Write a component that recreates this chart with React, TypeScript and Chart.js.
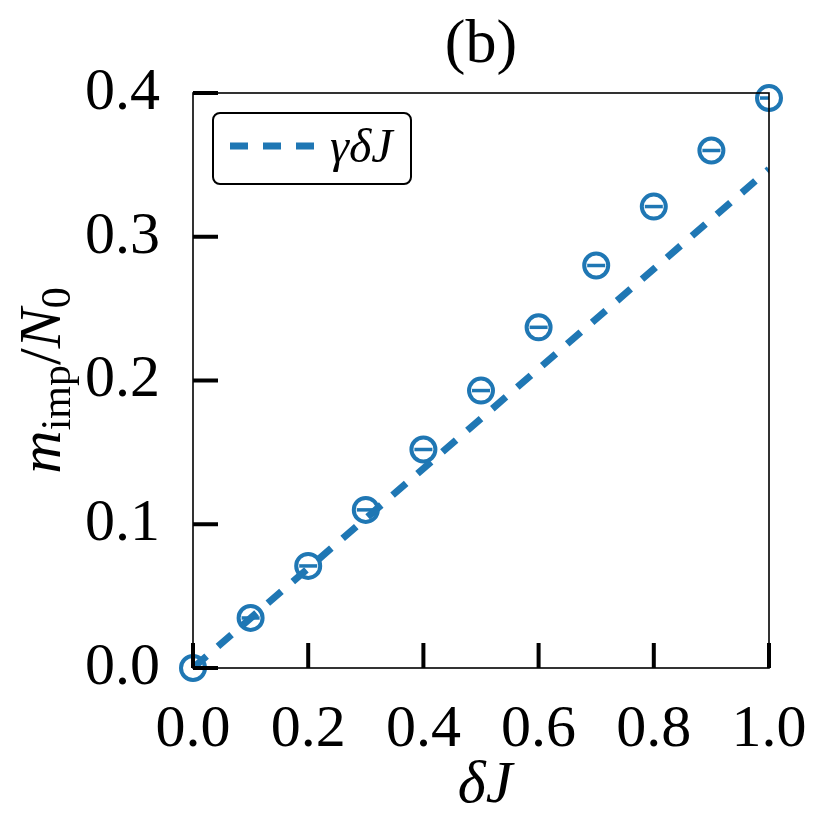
import React, { useEffect, useRef } from "react";
import { Chart, registerables } from "chart.js";

Chart.register(...registerables);

const deltaJ = [0.0, 0.1, 0.2, 0.3, 0.4, 0.5, 0.6, 0.7, 0.8, 0.9, 1.0];
const mImp = [0.0, 0.0348, 0.071, 0.110, 0.152, 0.193, 0.237, 0.280, 0.321, 0.360, 0.3965];
const fitX = [0.0, 1.0];
const fitY = [0.0, 0.347];
const xTicks = [0.0, 0.2, 0.4, 0.6, 0.8, 1.0];
const yTicks = [0.0, 0.1, 0.2, 0.3, 0.4];
const titleText = "(b)";
const xTitle = "δJ";
const legendLabel = "γδJ";

const BLUE = "#1f77b4";
const SERIF = "'Liberation Serif', 'DejaVu Serif', serif";

const decor = {
  id: "decor",
  afterDatasetsDraw(chart: any) {
    const { ctx, chartArea: a, scales } = chart;
    const xs = scales.x;
    const ys = scales.y;
    ctx.save();
    // frame
    ctx.strokeStyle = "#000";
    ctx.lineWidth = 1.6;
    ctx.strokeRect(a.left, a.top, a.right - a.left, a.bottom - a.top);
    // inward ticks
    ctx.lineWidth = 4;
    ctx.lineCap = "butt";
    xTicks.forEach((v) => {
      const px = xs.getPixelForValue(v);
      ctx.beginPath();
      ctx.moveTo(px, a.bottom);
      ctx.lineTo(px, a.bottom - 25);
      ctx.stroke();
    });
    yTicks.forEach((v) => {
      const py = ys.getPixelForValue(v);
      ctx.beginPath();
      ctx.moveTo(a.left, py);
      ctx.lineTo(a.left + 25, py);
      ctx.stroke();
    });

    // title
    ctx.fillStyle = "#000";
    ctx.textAlign = "center";
    ctx.textBaseline = "alphabetic";
    ctx.font = `62px ${SERIF}`;
    ctx.fillText(titleText, (a.left + a.right) / 2, 62);

    // x title
    ctx.font = `italic 60px ${SERIF}`;
    ctx.fillText(xTitle, (a.left + a.right) / 2 + 4, 802);

    // y title: m_imp / N_0 rotated
    ctx.save();
    ctx.translate(60, (a.top + a.bottom) / 2);
    ctx.rotate(-Math.PI / 2);
    ctx.textAlign = "left";
    const parts = [
      { t: "m", f: `italic 60px ${SERIF}`, dy: 0 },
      { t: "imp", f: `42px ${SERIF}`, dy: 10 },
      { t: "/", f: `60px ${SERIF}`, dy: 0 },
      { t: "N", f: `italic 60px ${SERIF}`, dy: 0 },
      { t: "0", f: `42px ${SERIF}`, dy: 10 },
    ];
    let total = 0;
    const widths = parts.map((p) => {
      ctx.font = p.f;
      const w = ctx.measureText(p.t).width;
      total += w;
      return w;
    });
    let cx = -total / 2;
    parts.forEach((p, i) => {
      ctx.font = p.f;
      ctx.fillText(p.t, cx, p.dy);
      cx += widths[i];
    });
    ctx.restore();

    // legend
    const lx = 213, ly = 113, lw = 198, lh = 71, r = 7;
    ctx.beginPath();
    ctx.moveTo(lx + r, ly);
    ctx.arcTo(lx + lw, ly, lx + lw, ly + lh, r);
    ctx.arcTo(lx + lw, ly + lh, lx, ly + lh, r);
    ctx.arcTo(lx, ly + lh, lx, ly, r);
    ctx.arcTo(lx, ly, lx + lw, ly, r);
    ctx.closePath();
    ctx.fillStyle = "rgba(255,255,255,0.8)";
    ctx.fill();
    ctx.lineWidth = 2;
    ctx.strokeStyle = "#000";
    ctx.stroke();
    ctx.beginPath();
    ctx.setLineDash([18, 15]);
    ctx.strokeStyle = BLUE;
    ctx.lineWidth = 7;
    ctx.moveTo(230, 146);
    ctx.lineTo(314, 146);
    ctx.stroke();
    ctx.setLineDash([]);
    ctx.fillStyle = "#000";
    ctx.font = `italic 48px ${SERIF}`;
    ctx.textAlign = "left";
    ctx.fillText(legendLabel, 330, 162);
    ctx.restore();
  },
};

export default function App() {
  const ref = useRef<HTMLCanvasElement>(null);
  useEffect(() => {
    if (!ref.current) return;
    const pts = deltaJ.map((x, i) => ({ x, y: mImp[i] }));
    const fit = fitX.map((x, i) => ({ x, y: fitY[i] }));
    const chart = new Chart(ref.current, {
      type: "scatter",
      data: {
        datasets: [
          {
            type: "line",
            label: legendLabel,
            data: fit,
            borderColor: BLUE,
            borderWidth: 7,
            borderDash: [18, 15],
            borderCapStyle: "butt",
            pointRadius: 0,
            fill: false,
            order: 0,
            clip: 0,
          } as any,
          {
            label: "bars",
            data: pts,
            pointStyle: "line",
            pointRadius: 9,
            pointBorderWidth: 3.5,
            borderColor: BLUE,
            backgroundColor: BLUE,
            order: 1,
            clip: 0,
          } as any,
          {
            label: "data",
            data: pts,
            pointStyle: "circle",
            pointRadius: 12,
            pointBorderWidth: 4,
            borderColor: BLUE,
            backgroundColor: "rgba(0,0,0,0)",
            order: 2,
            clip: false,
          } as any,
        ],
      },
      options: {
        animation: false,
        responsive: false,
        layout: { padding: { left: 0, right: 53, top: 93, bottom: 0 } },
        plugins: {
          legend: { display: false },
          tooltip: { enabled: false },
          title: { display: false },
        },
        scales: {
          x: {
            type: "linear",
            min: 0,
            max: 1,
            afterFit: (s: any) => {
              s.height = 167;
              s.paddingLeft = 0;
              s.paddingRight = 0;
            },
            afterBuildTicks: (s: any) => { s.ticks = xTicks.map((v) => ({ value: v })); },
            grid: { display: false, drawTicks: false },
            border: { display: false },
            ticks: {
              padding: 26,
              color: "#000",
              font: { family: SERIF, size: 60 },
              maxRotation: 0,
              autoSkip: false,
              callback: (v: any) => Number(v).toFixed(1),
            },
          },
          y: {
            type: "linear",
            min: 0,
            max: 0.4,
            afterFit: (s: any) => {
              s.width = 193;
              s.paddingTop = 0;
              s.paddingBottom = 0;
            },
            afterBuildTicks: (s: any) => { s.ticks = yTicks.map((v) => ({ value: v })); },
            grid: { display: false, drawTicks: false },
            border: { display: false },
            ticks: {
              padding: 33,
              color: "#000",
              font: { family: SERIF, size: 60 },
              autoSkip: false,
              callback: (v: any) => Number(v).toFixed(1),
            },
          },
        },
      },
      plugins: [decor],
    });
    return () => chart.destroy();
  }, []);
  return (
    <canvas
      ref={ref}
      width={822}
      height={835}
      style={{ position: "absolute", left: 0, top: 0, display: "block" }}
    />
  );
}
